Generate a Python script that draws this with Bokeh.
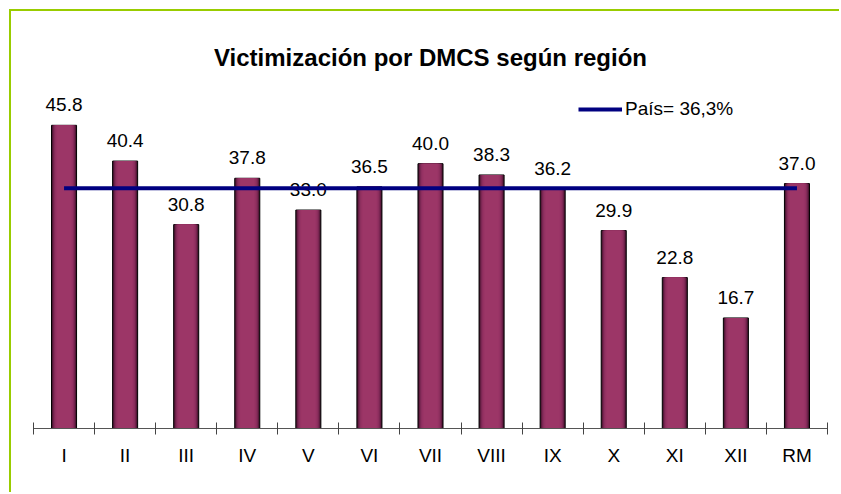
import numpy as np
from bokeh.plotting import figure
from bokeh.models import Range1d, FixedTicker, Legend, LegendItem, ColumnDataSource
from bokeh.core.properties import value
from bokeh.embed import file_html
from bokeh.resources import INLINE

regions = ["I", "II", "III", "IV", "V", "VI", "VII", "VIII", "IX", "X", "XI", "XII", "RM"]
values = [45.8, 40.4, 30.8, 37.8, 33.0, 36.5, 40.0, 38.3, 36.2, 29.9, 22.8, 16.7, 37.0]
country_value = 36.3
country_label = "País= 36,3%"
title_text = "Victimización por DMCS según región"

FONT = "Liberation Sans"
n = len(regions)
centers = np.arange(n) + 0.5
labels = [f"{v:.1f}" for v in values]

src = ColumnDataSource(dict(x=centers, top=values, lab=labels, line_y=[country_value] * n))

p = figure(width=830, height=483, output_backend="svg", toolbar_location=None,
           x_range=Range1d(0, n), y_range=Range1d(0, 50),
           min_border_left=22, min_border_right=14, min_border_top=86, min_border_bottom=66,
           title=title_text)
p.styles = {"margin-left": "11px", "margin-top": "11px",
            "box-shadow": "-2px -2px 0px 0px #99CC00"}
p.outline_line_color = None
p.xgrid.visible = False
p.ygrid.visible = False
p.yaxis.visible = False

p.title.text_font = FONT
p.title.text_font_size = "24px"
p.title.text_font_style = "bold"
p.title.align = "center"
p.title.vertical_align = "top"
p.title.text_color = "black"
p.title.standoff = 50

# simulated cylinder-like shading of the bars
bar_w = 0.41
shade_fracs = [1.0, 0.93, 0.86, 0.79, 0.72, 0.64, 0.56]
shade_cols = ["#3a0e26", "#5c1b3d", "#762550", "#872c5b", "#923161", "#983465", "#9c3667"]
for i, (f, col) in enumerate(zip(shade_fracs, shade_cols)):
    if i == 0:
        p.vbar(x="x", top="top", bottom=0, width=bar_w, source=src, fill_color=col,
               line_color="black", line_width=1)
    else:
        p.vbar(x="x", top="top", bottom=0, width=bar_w * f, source=src, fill_color=col,
               line_color=None)

p.text(x="x", y="top", text="lab", source=src, text_align="center", text_baseline="bottom",
       y_offset=-14, text_font=value(FONT), text_font_size="19px", text_color="black")

ln = p.line(x="x", y="line_y", source=src, line_color="#000080", line_width=4)

ax = p.xaxis[0]
ax.ticker = FixedTicker(ticks=list(centers), minor_ticks=list(range(n + 1)))
ax.major_label_overrides = {float(c): r for c, r in zip(centers, regions)}
ax.major_tick_line_color = None
ax.major_tick_in = 0
ax.major_tick_out = 0
ax.minor_tick_in = 6
ax.minor_tick_out = 6
ax.minor_tick_line_color = "#444444"
ax.axis_line_color = "#555555"
ax.axis_line_width = 1
ax.major_label_standoff = 10
ax.major_label_text_font = FONT
ax.major_label_text_font_size = "19px"
ax.major_label_text_color = "black"

legend = Legend(items=[LegendItem(label=country_label, renderers=[ln])],
                location=(545, 308), padding=0, margin=0, spacing=0,
                glyph_width=44, glyph_height=22, label_standoff=3,
                label_text_font=FONT, label_text_font_size="19px", label_text_color="black",
                border_line_color=None, background_fill_alpha=0)
p.add_layout(legend)

open("out.html", "w").write(file_html(p, INLINE))
